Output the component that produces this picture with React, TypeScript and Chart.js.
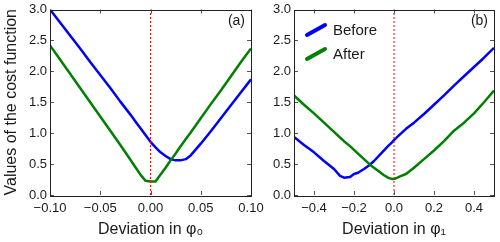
import { useEffect, useRef } from "react";
import { Chart, registerables } from "chart.js";

Chart.register(...registerables);

// ---- data -------------------------------------------------------------
const phi0X = [-0.1, -0.09, -0.08, -0.07, -0.06, -0.05, -0.04, -0.03, -0.02, -0.015, -0.01, -0.005, 0, 0.005, 0.01, 0.015, 0.02, 0.025, 0.03, 0.035, 0.04, 0.05, 0.06, 0.07, 0.08, 0.09, 0.1];
const beforePhi0 = [3.0, 2.79, 2.58, 2.37, 2.15, 1.94, 1.73, 1.51, 1.3, 1.19, 1.08, 0.97, 0.86, 0.77, 0.69, 0.63, 0.58, 0.56, 0.56, 0.58, 0.64, 0.83, 1.03, 1.24, 1.45, 1.66, 1.87];
const afterPhi0 = [2.42, 2.19, 1.96, 1.73, 1.5, 1.27, 1.04, 0.81, 0.57, 0.45, 0.33, 0.23, 0.22, 0.22, 0.33, 0.44, 0.56, 0.67, 0.79, 0.9, 1.01, 1.24, 1.47, 1.69, 1.92, 2.15, 2.37];

const phi1X = [-0.5, -0.45, -0.4, -0.35, -0.3, -0.27, -0.25, -0.22, -0.2, -0.18, -0.15, -0.12, -0.1, -0.05, -0.03, -0.01, 0, 0.01, 0.03, 0.06, 0.1, 0.15, 0.2, 0.25, 0.3, 0.35, 0.4, 0.45, 0.5];
const beforePhi1 = [0.94, 0.81, 0.69, 0.55, 0.42, 0.31, 0.28, 0.29, 0.34, 0.36, 0.42, 0.49, 0.55, 0.72, 0.79, 0.85, 0.89, 0.92, 0.98, 1.07, 1.17, 1.31, 1.46, 1.61, 1.77, 1.92, 2.07, 2.22, 2.38];
const afterPhi1 = [1.61, 1.46, 1.32, 1.17, 1.02, 0.93, 0.87, 0.79, 0.73, 0.67, 0.58, 0.49, 0.44, 0.32, 0.28, 0.26, 0.26, 0.27, 0.3, 0.34, 0.44, 0.58, 0.72, 0.87, 1.04, 1.17, 1.32, 1.5, 1.69];

const phi0Ticks = [-0.1, -0.05, 0, 0.05, 0.1];
const phi1Ticks = [-0.4, -0.2, 0, 0.2, 0.4];
const costTicks = [0, 0.5, 1, 1.5, 2, 2.5, 3];
const seriesLabels = ["Before", "After"];
const seriesColors = ["#0000ff", "#008000"];
const panelLabels = ["(a)", "(b)"];
const xTitles = ["Deviation in \u03c6\u2080", "Deviation in \u03c6\u2081"];
const yTitle = "Values of the cost function";
const refLineY = [0, 3];

// ---- styling ------------------------------------------------------------
const FONT = "'Liberation Sans', Arial, Helvetica, sans-serif";
const TEXT = "#1a1a1a";

const fmt = (v: number, d: number) => {
  const s = Math.abs(v) < 1e-12 ? (0).toFixed(d) : v.toFixed(d);
  return s.replace("-", "\u2212");
};

const framePlugin = {
  id: "frame",
  afterDatasetsDraw(chart: any) {
    const { ctx, chartArea: a, scales } = chart;
    ctx.save();
    ctx.strokeStyle = "#555";
    ctx.lineWidth = 1;
    const L = 4;
    ctx.beginPath();
    for (const t of scales.x.ticks) {
      const px = Math.round(scales.x.getPixelForValue(t.value)) + 0.5;
      ctx.moveTo(px, a.bottom);
      ctx.lineTo(px, a.bottom - L);
      ctx.moveTo(px, a.top);
      ctx.lineTo(px, a.top + L);
    }
    for (const t of scales.y.ticks) {
      const py = Math.round(scales.y.getPixelForValue(t.value)) + 0.5;
      ctx.moveTo(a.left, py);
      ctx.lineTo(a.left + L, py);
      ctx.moveTo(a.right, py);
      ctx.lineTo(a.right - L, py);
    }
    ctx.stroke();
    ctx.strokeStyle = "#222";
    ctx.lineWidth = 1;
    ctx.strokeRect(Math.round(a.left) + 0.5, Math.round(a.top) + 0.5, Math.round(a.right - a.left), Math.round(a.bottom - a.top));
    ctx.restore();
  },
};

const panelPlugin = {
  id: "panel",
  afterDraw(chart: any, _args: any, opts: any) {
    const { ctx, chartArea: a } = chart;
    ctx.save();
    ctx.font = `14px ${FONT}`;
    ctx.fillStyle = TEXT;
    ctx.textAlign = "right";
    ctx.textBaseline = "middle";
    ctx.fillText(opts.text, a.right - 6, a.top + 12);
    ctx.restore();
  },
};

const diagLegendPlugin = {
  id: "diagLegend",
  afterDraw(chart: any, _args: any, opts: any) {
    if (!opts || !opts.show) return;
    const { ctx, chartArea: a } = chart;
    const items = chart.data.datasets.filter((d: any) => seriesLabels.includes(d.label));
    ctx.save();
    ctx.font = `15px ${FONT}`;
    ctx.textBaseline = "middle";
    ctx.textAlign = "left";
    items.forEach((d: any, i: number) => {
      const cy = a.top + 20.5 + i * 24;
      const x0 = a.left + 13;
      ctx.strokeStyle = d.borderColor;
      ctx.lineWidth = 4;
      ctx.lineCap = "round";
      ctx.beginPath();
      ctx.moveTo(x0, cy + 5);
      ctx.lineTo(x0 + 18, cy - 5);
      ctx.stroke();
      ctx.fillStyle = TEXT;
      ctx.fillText(d.label, a.left + 39, cy + 1);
    });
    ctx.restore();
  },
};

function makeConfig(opts: {
  xs: number[];
  before: number[];
  after: number[];
  xMin: number;
  xMax: number;
  xTicks: number[];
  decimals: number;
  xTitle: string;
  showYTitle: boolean;
  yWidth: number;
  padding: { left: number; right: number; top: number; bottom: number };
  panel: string;
  legend: boolean;
}) {
  const series = [opts.before, opts.after];
  const datasets: any[] = series.map((vals, i) => ({
    label: seriesLabels[i],
    data: opts.xs.map((x, j) => ({ x, y: vals[j] })),
    borderColor: seriesColors[i],
    backgroundColor: seriesColors[i],
    borderWidth: 2.5,
    pointRadius: 0,
    tension: 0,
    borderJoinStyle: "round",
    order: 2 - i,
  }));
  datasets.push({
    label: "reference",
    data: refLineY.map((y) => ({ x: 0, y })),
    borderColor: "#ff0000",
    borderWidth: 1,
    borderDash: [2, 2],
    pointRadius: 0,
    order: 0,
  });
  return {
    type: "line" as const,
    data: { datasets },
    plugins: [framePlugin, panelPlugin, diagLegendPlugin],
    options: {
      animation: false as const,
      responsive: false,
      events: [],
      layout: { padding: opts.padding },
      plugins: {
        legend: { display: false },
        tooltip: { enabled: false },
        panel: { text: opts.panel },
        diagLegend: { show: opts.legend },
      },
      scales: {
        x: {
          type: "linear" as const,
          min: opts.xMin,
          max: opts.xMax,
          afterBuildTicks: (s: any) => {
            s.ticks = opts.xTicks.map((value) => ({ value }));
          },
          afterFit: (s: any) => {
            s.height = 47;
            s.paddingLeft = 0;
            s.paddingRight = 0;
          },
          grid: { display: false, drawTicks: false },
          border: { display: false },
          ticks: {
            font: { family: FONT, size: 13 },
            color: TEXT,
            padding: 6,
            maxRotation: 0,
            autoSkip: false,
            callback: (v: any) => fmt(Number(v), opts.decimals),
          },
          title: {
            display: true,
            text: opts.xTitle,
            font: { family: FONT, size: 16 },
            color: TEXT,
            padding: { top: 0, bottom: 3 },
          },
        },
        y: {
          type: "linear" as const,
          min: 0,
          max: 3,
          afterBuildTicks: (s: any) => {
            s.ticks = costTicks.map((value) => ({ value }));
          },
          afterFit: (s: any) => {
            s.width = opts.yWidth;
            s.paddingTop = 0;
            s.paddingBottom = 0;
          },
          grid: { display: false, drawTicks: false },
          border: { display: false },
          ticks: {
            font: { family: FONT, size: 13 },
            color: TEXT,
            padding: 3,
            autoSkip: false,
            callback: (v: any) => fmt(Number(v), 1),
          },
          title: {
            display: opts.showYTitle,
            text: yTitle,
            font: { family: FONT, size: 16 },
            color: TEXT,
            padding: { top: 1.5, bottom: 0 },
          },
        },
      },
    },
  };
}

export default function App() {
  const leftRef = useRef<HTMLCanvasElement | null>(null);
  const rightRef = useRef<HTMLCanvasElement | null>(null);

  useEffect(() => {
    const left = new Chart(
      leftRef.current as HTMLCanvasElement,
      makeConfig({
        xs: phi0X,
        before: beforePhi0,
        after: afterPhi0,
        xMin: -0.1,
        xMax: 0.1,
        xTicks: phi0Ticks,
        decimals: 2,
        xTitle: xTitles[0],
        showYTitle: true,
        yWidth: 50,
        padding: { left: 0, right: 249, top: 9.5, bottom: 0 },
        panel: panelLabels[0],
        legend: false,
      }) as any
    );
    const right = new Chart(
      rightRef.current as HTMLCanvasElement,
      makeConfig({
        xs: phi1X,
        before: beforePhi1,
        after: afterPhi1,
        xMin: -0.5,
        xMax: 0.5,
        xTicks: phi1Ticks,
        decimals: 1,
        xTitle: xTitles[1],
        showYTitle: false,
        yWidth: 44,
        padding: { left: 250, right: 6, top: 9.5, bottom: 0 },
        panel: panelLabels[1],
        legend: true,
      }) as any
    );
    return () => {
      left.destroy();
      right.destroy();
    };
  }, []);

  const canvasStyle: React.CSSProperties = { position: "absolute", left: 0, top: 0, display: "block" };

  return (
    <div style={{ position: "fixed", left: 0, top: 0, width: 500, height: 242, background: "#fff" }}>
      <canvas ref={leftRef} width={500} height={242} style={canvasStyle} />
      <canvas ref={rightRef} width={500} height={242} style={canvasStyle} />
    </div>
  );
}
